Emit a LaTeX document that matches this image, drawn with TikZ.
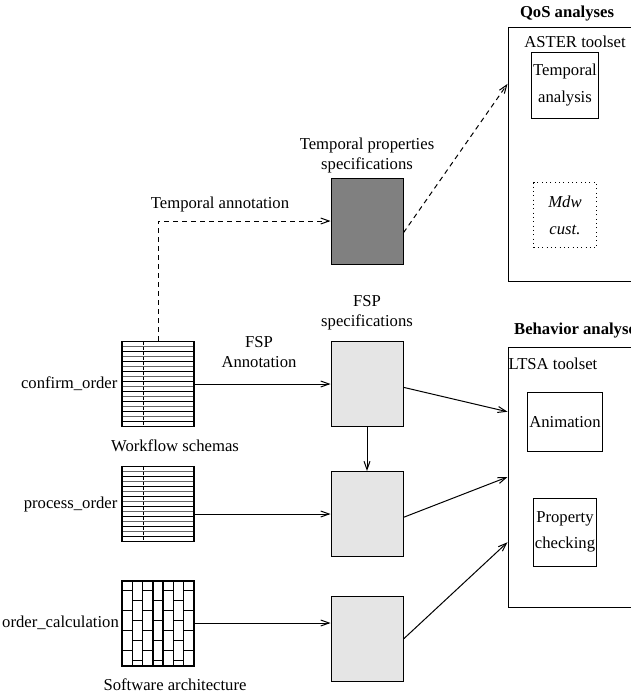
\documentclass[tikz,border=0pt]{standalone}
\usepackage{fontspec}
\setmainfont{Liberation Serif}
\usetikzlibrary{arrows.meta, positioning, calc}

\begin{document}
\begin{tikzpicture}[x=0.6pt, y=-0.6pt, line width=0.6pt,
  box/.style={draw, fill=black!10, minimum width=43.2pt, minimum height=51pt},
  tool/.style={draw, minimum width=37.8pt, align=center, inner sep=1pt},
  area/.style={draw, minimum width=85.2pt},
  ttl/.style={font=\bfseries, inner sep=1pt},
  lbl/.style={align=center, inner sep=1pt},
  arr/.style={-{Straight Barb[length=5pt, width=3.6pt]}},
  dsh/.style={dash pattern=on 3pt off 2.4pt},
  stripes/.style={draw, line width=1pt, minimum width=43.2pt, path picture={
    \foreach \k in {1,...,8}
      \draw[black!60, line width=0.9pt] ([yshift={-(6*\k-3)*1pt}]path picture bounding box.north west) -- ([yshift={-(6*\k-3)*1pt}]path picture bounding box.north east);
    \foreach \k in {1,...,8}
      \draw[line width=0.9pt] ([yshift={-6*\k*1pt}]path picture bounding box.north west) -- ([yshift={-6*\k*1pt}]path picture bounding box.north east);
    \draw[line width=0.6pt, dash pattern=on 2pt off 1pt] ([xshift=12.6pt]path picture bounding box.north west) -- ([xshift=12.6pt]path picture bounding box.south west);
  }},
  bricks/.style={draw, line width=1.2pt, minimum width=43.2pt, minimum height=51pt, path picture={
    \foreach \c in {0,...,6}{
      \draw[line width=0.8pt] ([xshift={\c*6.17pt}]path picture bounding box.north west) -- ([xshift={\c*6.17pt}]path picture bounding box.south west);
      \foreach \r in {0,...,4}
        \draw[line width=0.8pt] ([xshift={\c*6.17pt}, yshift={-(12*\r+6*mod(\c,2)+6)*1pt}]path picture bounding box.north west) -- ++(6.17pt,0);
    }
  }},
]
\path[use as bounding box, clip] (0,0) rectangle (631,694);

% QoS side
\node[ttl] at (567,14) {QoS analyses};
\node[area, minimum height=152.4pt] (qos) at (579,154) {};
\node[lbl] at (575,42) {ASTER toolset};
\node[tool, minimum height=39.6pt] (tan) at (565,85) {Temporal\\[4pt]analysis};
\node[tool, dotted, minimum height=39pt] (mdw) at (565,215) {\itshape Mdw\\[4pt]\itshape cust.};

% Behavior side
\node[ttl, anchor=west] at (512,331) {Behavior analyses};
\node[area, minimum height=156pt] (beh) at (579,477) {};
\node[lbl] at (553,364) {LTSA toolset};
\node[tool, minimum height=35.4pt] (anim) at (565,422) {Animation};
\node[tool, minimum height=40.8pt] (prop) at (565,532) {Property\\[4pt]checking};

% specifications
\node[lbl] at (367,155) {Temporal properties\\specifications};
\node[draw, fill=black!50, minimum width=43.2pt, minimum height=51.6pt] (tprop) at (367,221) {};
\node[lbl] at (367,313) {FSP\\specifications};
\node[box] (fsp1) at (367,384) {};
\node[box] (fsp2) at (367,514) {};
\node[box] (fsp3) at (367,639) {};

% workflow schemas and architecture
\node[stripes, minimum height=51pt] (wf1) at (158,384) {};
\node[stripes, minimum height=45pt] (wf2) at (158,504) {};
\node[bricks] (wf3) at (158,623) {};
\node[lbl, left=1pt of wf1] {confirm\_order};
\node[lbl, left=1pt of wf2] {process\_order};
\node[lbl, left=0pt of wf3] {order\_calculation};
\node[lbl] at (175,446) {Workflow schemas};
\node[lbl] at (175,685) {Software architecture};
\node[lbl] at (220,204) {Temporal annotation};
\node[lbl] at (259,352) {FSP\\Annotation};

% connectors
\draw[arr, dsh] (wf1.north) |- (tprop.west);
\draw[arr, dsh] ([yshift=-7pt]tprop.east) -- ($(qos.north west)!0.225!(qos.south west)$);
\draw[arr] (wf1.east) -- (fsp1.west);
\draw[arr] (wf2.east |- fsp2.west) -- (fsp2.west);
\draw[arr] (wf3.east) -- (wf3.east -| fsp3.west);
\draw[arr] (fsp1.south) -- (fsp2.north);
\draw[arr] ([yshift=-2pt]fsp1.east) -- ($(beh.north west)!0.25!(beh.south west)$);
\draw[arr] ([yshift=-2pt]fsp2.east) -- ($(beh.north west)!0.5!(beh.south west)$);
\draw[arr] (fsp3.east) -- ($(beh.north west)!0.75!(beh.south west)$);
\end{tikzpicture}
\end{document}
